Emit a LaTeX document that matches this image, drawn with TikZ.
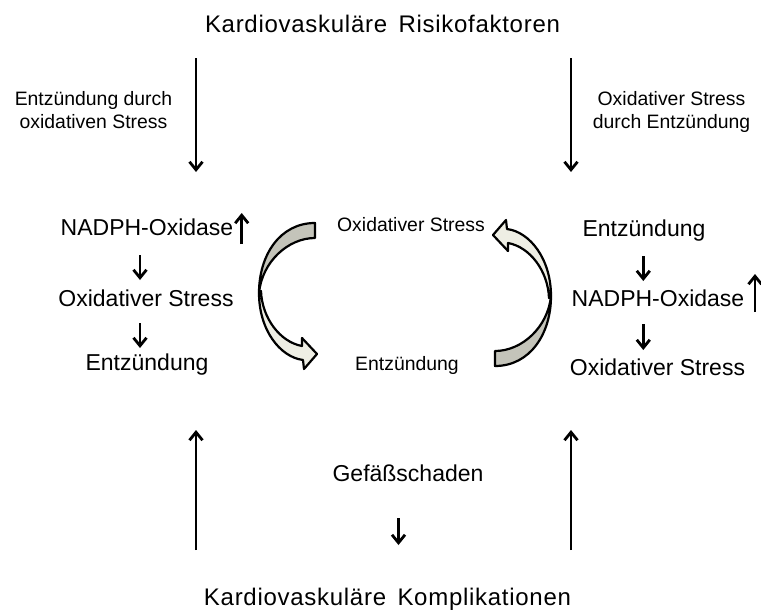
\documentclass[tikz,border=0pt]{standalone}
\usepackage{fontspec}
\setmainfont{Liberation Sans}
\newfontfamily\titlefont[LetterSpace=3]{Liberation Sans}
\usetikzlibrary{arrows.meta}
\definecolor{backband}{RGB}{196,196,186}
\definecolor{frontband}{RGB}{238,238,228}
\tikzset{
  big/.style={font=\fontsize{23}{27}\selectfont, anchor=base, inner sep=0pt},
  mid/.style={font=\fontsize{19.4}{23}\selectfont, anchor=base, inner sep=0pt},
  ttl/.style={font=\titlefont\fontsize{24}{28}\selectfont, anchor=base, inner sep=0pt},
  longarr/.style={line width=2.8pt, -{Straight Barb[length=8pt,width=13pt,line width=2.8pt]}},
  smallarr/.style={line width=2.8pt, -{Straight Barb[length=8pt,width=13pt,line width=2.8pt]}},
  backpart/.style={draw=black, fill=backband, line width=2.2pt, line join=round},
  frontpart/.style={draw=black, fill=frontband, line width=2.2pt, line join=round},
}
\newcommand\mycyclearrow{%
  \path[backpart] (315,223) .. controls (280,223) and (259,255) .. (259,293)
     .. controls (262,262) and (288,238) .. (315,238) -- cycle;
  \path[frontpart] (259,293) .. controls (259,330) and (280,357) .. (303,360)
     -- (304,369) -- (317,354) -- (302,338) -- (302,346)
     .. controls (280,342) and (262,318) .. (261,291) -- cycle;
}
\begin{document}
\begin{tikzpicture}[x=1pt,y=-1pt]
\useasboundingbox (0,0) rectangle (761,613);
% titles
\node[ttl] (top) at (382.5,32) {Kardiovaskuläre\, Risikofaktoren};
\node[ttl] (bot) at (387.5,605) {Kardiovaskuläre\, Komplikationen};
% top side labels
\node[mid] (ltA) at (93.5,105) {Entzündung durch};
\node[mid] (ltB) at (93.5,128) {oxidativen Stress};
\node[mid] (rtA) at (671.5,105) {Oxidativer Stress};
\node[mid] (rtB) at (671.5,128) {durch Entzündung};
% left column
\node[big] (lN) at (147,235) {NADPH-Oxidase};
\node[big] (lO) at (146,306) {Oxidativer Stress};
\node[big] (lE) at (147,370) {Entzündung};
% right column
\node[big] (rE) at (644,236) {Entzündung};
\node[big] (rN) at (658,306) {NADPH-Oxidase};
\node[big] (rO) at (657.5,375) {Oxidativer Stress};
% centre
\node[mid] (cO) at (411,231.5) {Oxidativer Stress};
\node[mid] (cE) at (407,370) {Entzündung};
\node[big] (gef) at (408,481) {Gefäßschaden};
% long arrows
\coordinate (ld1) at (196,58);  \coordinate (ld2) at (196,172);
\coordinate (rd1) at (571,58);  \coordinate (rd2) at (571,172);
\coordinate (lu1) at (196,550); \coordinate (lu2) at (196,430);
\coordinate (ru1) at (571,550); \coordinate (ru2) at (571,430);
\draw[longarr] (ld1) -- (ld2);
\draw[longarr] (rd1) -- (rd2);
\draw[longarr] (lu1) -- (lu2);
\draw[longarr] (ru1) -- (ru2);
% small arrows
\coordinate (la1) at (140,255); \coordinate (la2) at (140,280);
\coordinate (la3) at (140,323); \coordinate (la4) at (140,348);
\coordinate (lup1) at (241.7,244); \coordinate (lup2) at (241.7,213);
\coordinate (ra1) at (643.3,256); \coordinate (ra2) at (643.3,281);
\coordinate (ra3) at (643.3,324); \coordinate (ra4) at (643.3,350);
\coordinate (rup1) at (755,312); \coordinate (rup2) at (755,274);
\coordinate (ga1) at (398.5,518); \coordinate (ga2) at (398.5,545);
\draw[smallarr] (la1) -- (la2);
\draw[smallarr] (la3) -- (la4);
\draw[smallarr] (lup1) -- (lup2);
\draw[smallarr] (ra1) -- (ra2);
\draw[smallarr] (ra3) -- (ra4);
\draw[smallarr] (rup1) -- (rup2);
\draw[smallarr] (ga1) -- (ga2);
% curved cycle arrows
\mycyclearrow
\begin{scope}[rotate around={180:(405,294.5)}]
\mycyclearrow
\end{scope}
\end{tikzpicture}
\end{document}
